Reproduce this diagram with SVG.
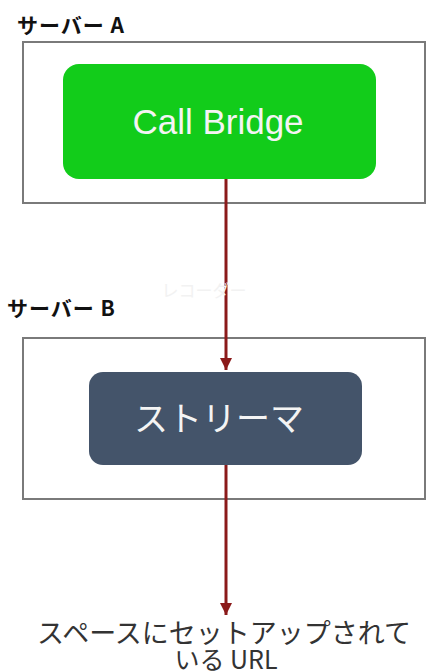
<svg xmlns="http://www.w3.org/2000/svg" width="426" height="671" viewBox="0 0 426 671">
<defs>
<style>
.srv{fill:#ffffff;stroke:#7a7a7a;stroke-width:2}
.lbl{font-family:"Noto Sans CJK JP","Liberation Sans",sans-serif;font-weight:bold;font-size:21px;letter-spacing:1px;fill:#111}
.conn{stroke:#8b1a1a;stroke-width:3;fill:none}
.jp{font-family:"Noto Sans CJK JP",sans-serif}
</style>
<marker id="ah" viewBox="0 0 10 10" refX="10" refY="5" markerWidth="4" markerHeight="4" markerUnits="strokeWidth" orient="auto">
<path d="M0,0 L10,5 L0,10 z" fill="#8b1a1a"/>
</marker>
</defs>
<rect width="426" height="671" fill="#ffffff"/>
<g id="server-a">
<text class="lbl" x="17" y="33">サーバー A</text>
<rect class="srv" x="23" y="42" width="402" height="161"/>
</g>
<g id="server-b">
<text class="lbl" x="7" y="316">サーバー B</text>
<rect class="srv" x="23" y="338" width="402" height="161"/>
</g>
<g id="call-bridge">
<rect x="63" y="64" width="313" height="115" rx="16" fill="#12cc1a"/>
<text x="218" y="134" text-anchor="middle" font-family="Liberation Sans, Arial, sans-serif" font-size="35" fill="#f4f4f4">Call Bridge</text>
</g>
<g id="streamer">
<rect x="89" y="372" width="273" height="93" rx="14" fill="#44546a"/>
<text x="219" y="431" text-anchor="middle" class="jp" font-size="34" fill="#f4f4f4">ストリーマ</text>
</g>
<g id="connectors">
<line class="conn" x1="226" y1="179" x2="226" y2="370" marker-end="url(#ah)"/>
<text x="204" y="297" text-anchor="middle" class="jp" font-size="17" fill="#f2f2f2">レコーダー</text>
<line class="conn" x1="226" y1="465" x2="226" y2="615" marker-end="url(#ah)"/>
</g>
<g id="url">
<text x="224" y="643" text-anchor="middle" class="jp" font-size="27" fill="#333333">スペースにセットアップされて</text>
<text x="226" y="669" text-anchor="middle" class="jp" font-size="25" fill="#333333">いる URL</text>
</g>
</svg>
